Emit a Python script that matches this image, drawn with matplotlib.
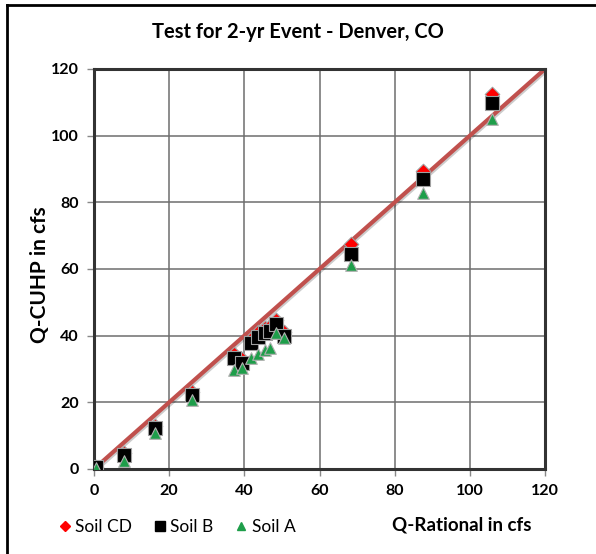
import matplotlib.pyplot as plt
from matplotlib.lines import Line2D
import matplotlib.patheffects as pe

plt.rcParams['font.family'] = ['Lato', 'DejaVu Sans']

# Peak flows: rational method vs CUHP for three soil groups
q_rational = [0.5, 8.0, 16.2, 26.2, 37.2, 39.4, 41.8, 43.6, 45.5, 46.8, 48.4, 50.5, 68.5, 87.5, 106.0]
soil_cd = [0.6, 4.8, 13.0, 23.2, 34.6, 33.0, 39.0, 41.0, 42.2, 42.8, 44.8, 41.2, 67.5, 89.5, 112.5]
soil_b = [0.5, 4.2, 12.3, 22.2, 33.3, 31.8, 37.8, 39.6, 40.8, 41.4, 43.5, 39.9, 64.5, 87.0, 109.8]
soil_a = [0.3, 2.4, 10.9, 20.8, 29.8, 30.3, 33.3, 34.5, 35.7, 36.3, 40.8, 39.3, 61.2, 82.9, 104.9]

ticks = [0, 20, 40, 60, 80, 100, 120]

fig = plt.figure(figsize=(5.96, 5.54), dpi=100)
ax = fig.add_axes([94 / 596, 1 - 469 / 554, 451 / 596, 400 / 554])

# 1:1 reference line
ax.plot([0, 120], [0, 120], color='#C0504D', lw=3, zorder=2,
        path_effects=[pe.SimpleLineShadow(offset=(1, -1), alpha=0.2), pe.Normal()])

ax.scatter(q_rational, soil_cd, marker='D', s=55, color='#FF0000', edgecolor='#A0A0A0',
           linewidth=0.8, zorder=3, label='Soil CD')
ax.scatter(q_rational, soil_b, marker='s', s=90, color='black', edgecolor='#A0A0A0',
           linewidth=0.8, zorder=4, label='Soil B')
ax.scatter(q_rational, soil_a, marker='^', s=70, color='#1E9E4A', edgecolor='#B0B0B0',
           linewidth=0.8, zorder=5, label='Soil A')

ax.set_xlim(0, 120)
ax.set_ylim(0, 120)
ax.set_xticks(ticks)
ax.set_yticks(ticks)
ax.grid(True, color='#6E6E6E', lw=1.1)
ax.set_axisbelow(True)
for s in ax.spines.values():
    s.set_color('#333333')
    s.set_linewidth(2.2)
ax.tick_params(direction='out', length=5, width=1, color='#888888', pad=6)
for lbl in ax.get_xticklabels() + ax.get_yticklabels():
    lbl.set_fontweight('bold')
    lbl.set_fontsize(11.5)

fig.text(0.5, 1 - 32 / 554, 'Test for 2-yr Event - Denver, CO', ha='center', va='center',
         fontsize=14.5, fontweight='bold')
fig.text(40 / 596, 1 - 275 / 554, 'Q-CUHP in cfs', rotation=90, ha='center', va='center',
         fontsize=15, fontweight='bold')
fig.text(462 / 596, 1 - 525 / 554, 'Q-Rational in cfs', ha='center', va='center',
         fontsize=13.5, fontweight='bold')

handles = [Line2D([], [], marker='D', ls='', color='#FF0000', markersize=5.5),
           Line2D([], [], marker='s', ls='', color='black', markersize=7),
           Line2D([], [], marker='^', ls='', color='#1E9E4A', markersize=5.5)]
fig.legend(handles, ['Soil CD', 'Soil B', 'Soil A'], loc='center left',
           bbox_to_anchor=(42 / 596, 1 - 527 / 554), ncol=3, frameon=False,
           fontsize=12.5, handletextpad=0.2, columnspacing=1.2, handlelength=0.8)

# outer frame of the chart area
fig.add_artist(Line2D([7 / 596, 7 / 596], [0, 1 - 5 / 554], transform=fig.transFigure,
                      color='black', lw=2))
fig.add_artist(Line2D([7 / 596, 1], [1 - 5 / 554, 1 - 5 / 554], transform=fig.transFigure,
                      color='black', lw=2))

fig.savefig('out.png', dpi=100)
